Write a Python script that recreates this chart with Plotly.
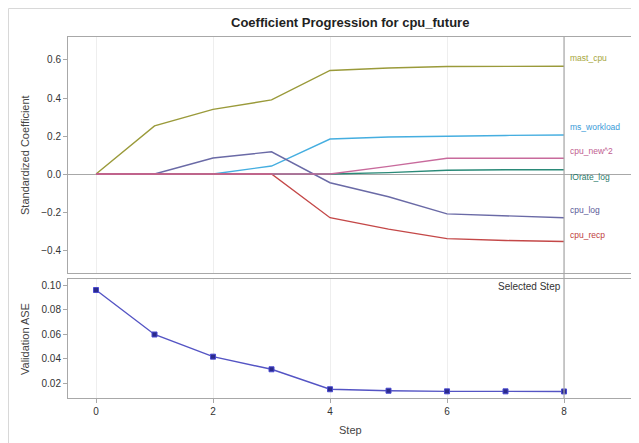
import plotly.graph_objects as go

steps = [0, 1, 2, 3, 4, 5, 6, 7, 8]

mast_cpu = [0, 0.253, 0.34, 0.39, 0.545, 0.558, 0.566, 0.567, 0.567]
ms_workload = [0, 0, 0, 0.042, 0.184, 0.195, 0.200, 0.203, 0.205]
iorate_log = [0, 0, 0, 0, 0, 0.007, 0.020, 0.022, 0.022]
cpu_log = [0, 0, 0.084, 0.117, -0.046, -0.120, -0.210, -0.220, -0.230]
cpu_recp = [0, 0, 0, 0, -0.230, -0.290, -0.340, -0.350, -0.355]
cpu_new2 = [0, 0, 0, 0, 0, 0.040, 0.083, 0.083, 0.083]

validation_ase = [0.0963, 0.0600, 0.0419, 0.0316, 0.0153, 0.0141, 0.0136, 0.0136, 0.0135]

series = [
    ("mast_cpu", mast_cpu, "#9a9a3a", "#a6a63c", 0.61),
    ("ms_workload", ms_workload, "#45aee0", "#3a9ad8", 0.247),
    ("IOrate_log", iorate_log, "#2a8a78", "#2a7a6a", -0.016),
    ("cpu_log", cpu_log, "#6a6aa6", "#5a5a98", -0.19),
    ("cpu_recp", cpu_recp, "#c44848", "#c04040", -0.32),
    ("cpu_new^2", cpu_new2, "#c86a9c", "#c06090", 0.121),
]

fig = go.Figure()
for name, vals, col, tcol, ly in series:
    fig.add_trace(go.Scatter(x=steps, y=vals, mode="lines", name=name,
                             line=dict(color=col, width=1.4),
                             xaxis="x", yaxis="y", showlegend=False))

fig.add_trace(go.Scatter(x=steps, y=validation_ase, mode="lines+markers",
                         line=dict(color="#5454c4", width=1.4),
                         marker=dict(symbol="square", size=5, color="#2a2a8c",
                                     line=dict(color="#4a4ad0", width=1)),
                         xaxis="x2", yaxis="y2", showlegend=False))

# page offsets: the plot area spans pixels 68..632 (x) and 37..398 (y) in the window
def px(p):
    return (p - 68) / 564

def py(p):
    return (398 - p) / 361

annotations = []
for name, vals, col, tcol, ly in series:
    annotations.append(dict(x=8.07, y=ly, xref="x", yref="y", text=name,
                            showarrow=False, xanchor="left", yanchor="middle",
                            font=dict(size=8.5, color=tcol)))

annotations += [
    dict(text="<b>Coefficient Progression for cpu_future</b>", x=0.5, y=py(23),
         xref="paper", yref="paper", showarrow=False, xanchor="center", yanchor="middle",
         font=dict(size=13, color="#222222")),
    dict(text="Standardized Coefficient", x=px(25), y=py(155),
         xref="paper", yref="paper", showarrow=False, textangle=-90,
         xanchor="center", yanchor="middle", font=dict(size=11, color="#444444")),
    dict(text="Validation ASE", x=px(25), y=py(339),
         xref="paper", yref="paper", showarrow=False, textangle=-90,
         xanchor="center", yanchor="middle", font=dict(size=11, color="#444444")),
    dict(text="Step", x=px(350), y=py(430),
         xref="paper", yref="paper", showarrow=False,
         xanchor="center", yanchor="middle", font=dict(size=11, color="#444444")),
    dict(text="Selected Step", x=7.98, y=0.0988, xref="x2", yref="y2",
         showarrow=False, xanchor="right", yanchor="middle",
         font=dict(size=10, color="#333333")),
]

shapes = [
    dict(type="line", xref="x", yref="paper", x0=8, x1=8, y0=0, y1=1,
         line=dict(color="#a8a8a8", width=1.2)),
    dict(type="line", xref="paper", yref="paper", x0=px(8.5), x1=px(640),
         y0=py(8.5), y1=py(8.5), line=dict(color="#d8d8d8", width=1)),
    dict(type="line", xref="paper", yref="paper", x0=px(8.5), x1=px(8.5),
         y0=py(8.5), y1=py(443), line=dict(color="#d8d8d8", width=1)),
]

axis_common = dict(showline=True, linecolor="#a8a8a8", linewidth=1, mirror=True,
                   tickfont=dict(family="Liberation Sans, Arial", size=10, color="#333333"),
                   ticklen=4, tickcolor="#a8a8a8")

xr = [-0.479, 9.162]
fig.update_layout(
    width=631, height=435,
    margin=dict(l=60, r=7, t=29, b=45),
    paper_bgcolor="white", plot_bgcolor="white",
    font=dict(family="Liberation Sans, Arial"),
    xaxis=dict(domain=[0, 1], anchor="y", range=xr, showticklabels=False,
               showgrid=True, gridcolor="#eeeeee", tickvals=[0, 2, 4, 6, 8],
               zeroline=False, ticks="", **axis_common),
    yaxis=dict(domain=[py(273), 1], anchor="x", range=[-0.521, 0.721],
               tickvals=[-0.4, -0.2, 0.0, 0.2, 0.4, 0.6], tickformat=".1f",
               showgrid=False, zeroline=True, zerolinecolor="#a8a8a8", zerolinewidth=1,
               ticks="outside", **axis_common),
    xaxis2=dict(domain=[0, 1], anchor="y2", range=xr, tickvals=[0, 2, 4, 6, 8],
                showgrid=True, gridcolor="#eeeeee", zeroline=False,
                ticks="outside", **axis_common),
    yaxis2=dict(domain=[0, py(279)], anchor="x2", range=[0.00816, 0.1053],
                tickvals=[0.02, 0.04, 0.06, 0.08, 0.10], tickformat=".2f",
                showgrid=False, zeroline=False, ticks="outside", **axis_common),
    annotations=annotations,
    shapes=shapes,
)

fig.write_html("out.html")
